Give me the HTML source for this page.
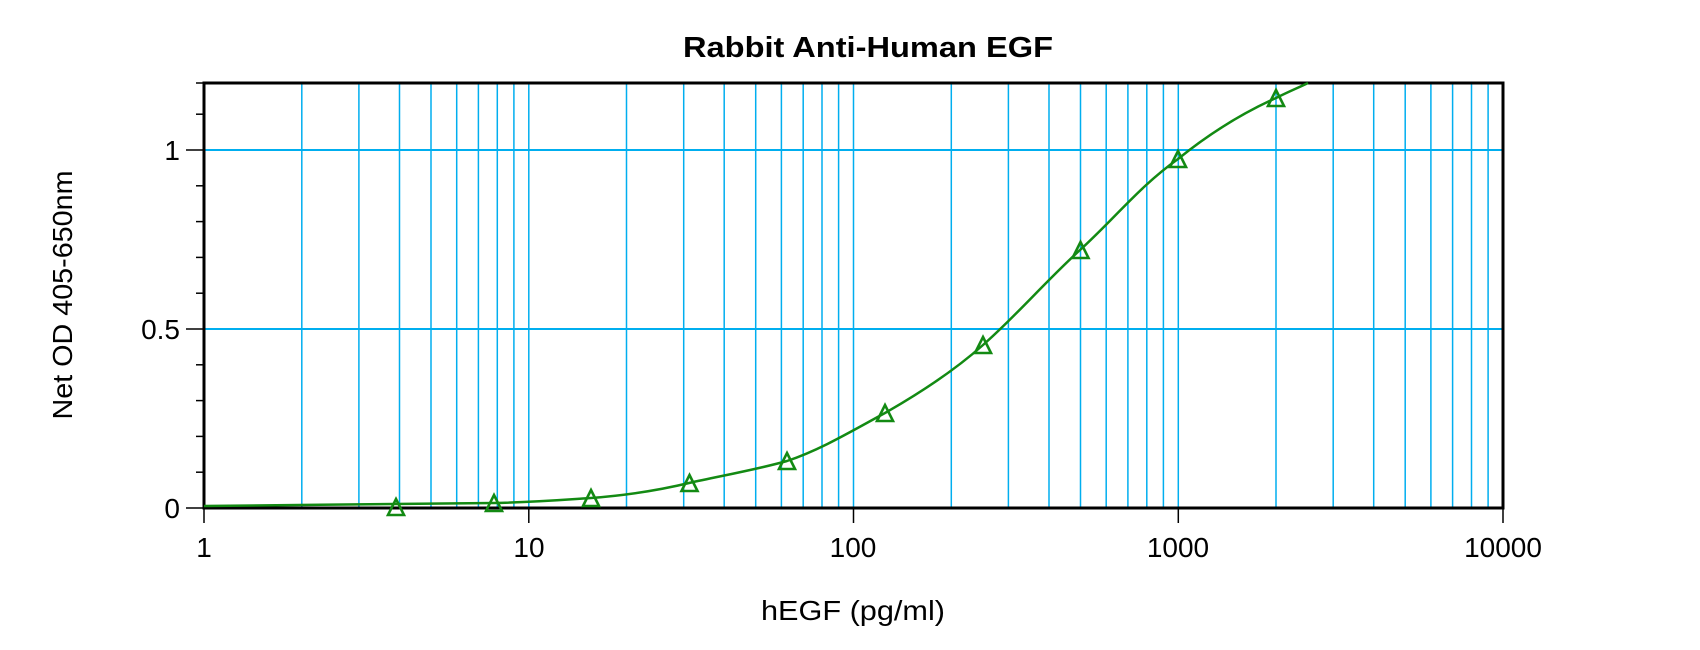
<!DOCTYPE html>
<html><head><style>html,body{margin:0;padding:0;background:#fff}</style></head><body>
<svg width="1700" height="645" xmlns="http://www.w3.org/2000/svg" font-family="Liberation Sans, Arial, sans-serif">
<rect width="1700" height="645" fill="#fff"/>
<g stroke="#00aeef">
<g stroke-width="1.5">
<line x1="301.8" y1="83" x2="301.8" y2="508"/><line x1="358.9" y1="83" x2="358.9" y2="508"/><line x1="399.5" y1="83" x2="399.5" y2="508"/><line x1="431" y1="83" x2="431" y2="508"/><line x1="456.7" y1="83" x2="456.7" y2="508"/><line x1="478.4" y1="83" x2="478.4" y2="508"/><line x1="497.3" y1="83" x2="497.3" y2="508"/><line x1="513.9" y1="83" x2="513.9" y2="508"/><line x1="528.8" y1="83" x2="528.8" y2="508"/>
<line x1="626.5" y1="83" x2="626.5" y2="508"/><line x1="683.7" y1="83" x2="683.7" y2="508"/><line x1="724.2" y1="83" x2="724.2" y2="508"/><line x1="755.7" y1="83" x2="755.7" y2="508"/><line x1="781.4" y1="83" x2="781.4" y2="508"/><line x1="803.2" y1="83" x2="803.2" y2="508"/><line x1="822" y1="83" x2="822" y2="508"/><line x1="838.6" y1="83" x2="838.6" y2="508"/><line x1="853.5" y1="83" x2="853.5" y2="508"/>
<line x1="951.3" y1="83" x2="951.3" y2="508"/><line x1="1008.4" y1="83" x2="1008.4" y2="508"/><line x1="1049" y1="83" x2="1049" y2="508"/><line x1="1080.5" y1="83" x2="1080.5" y2="508"/><line x1="1106.2" y1="83" x2="1106.2" y2="508"/><line x1="1127.9" y1="83" x2="1127.9" y2="508"/><line x1="1146.8" y1="83" x2="1146.8" y2="508"/><line x1="1163.4" y1="83" x2="1163.4" y2="508"/><line x1="1178.3" y1="83" x2="1178.3" y2="508"/>
<line x1="1276" y1="83" x2="1276" y2="508"/><line x1="1333.2" y1="83" x2="1333.2" y2="508"/><line x1="1373.7" y1="83" x2="1373.7" y2="508"/><line x1="1405.2" y1="83" x2="1405.2" y2="508"/><line x1="1430.9" y1="83" x2="1430.9" y2="508"/><line x1="1452.6" y1="83" x2="1452.6" y2="508"/><line x1="1471.5" y1="83" x2="1471.5" y2="508"/><line x1="1488.1" y1="83" x2="1488.1" y2="508"/>
</g>
<line x1="204" y1="150" x2="1503" y2="150" stroke-width="2"/>
<line x1="204" y1="329" x2="1503" y2="329" stroke-width="2"/>
</g>
<rect x="204" y="83" width="1299" height="425" fill="none" stroke="#000" stroke-width="3"/>
<g stroke="#000" stroke-width="1.5">
<line x1="186" y1="150" x2="204" y2="150"/><line x1="186" y1="329" x2="204" y2="329"/><line x1="186" y1="508" x2="204" y2="508"/>
<line x1="196" y1="114.2" x2="204" y2="114.2"/><line x1="196" y1="185.8" x2="204" y2="185.8"/><line x1="196" y1="221.6" x2="204" y2="221.6"/><line x1="196" y1="257.4" x2="204" y2="257.4"/><line x1="196" y1="293.2" x2="204" y2="293.2"/><line x1="196" y1="364.8" x2="204" y2="364.8"/><line x1="196" y1="400.6" x2="204" y2="400.6"/><line x1="196" y1="436.4" x2="204" y2="436.4"/><line x1="196" y1="472.2" x2="204" y2="472.2"/><line x1="196" y1="83" x2="204" y2="83"/>
<line x1="204" y1="508" x2="204" y2="523"/><line x1="528.8" y1="508" x2="528.8" y2="523"/><line x1="853.5" y1="508" x2="853.5" y2="523"/><line x1="1178.3" y1="508" x2="1178.3" y2="523"/><line x1="1503" y1="508" x2="1503" y2="523"/>
</g>
<text x="868" y="57" font-size="29" font-weight="bold" text-anchor="middle" textLength="370" lengthAdjust="spacingAndGlyphs">Rabbit Anti-Human EGF</text>
<g font-size="28" text-anchor="end">
<text x="180" y="160">1</text><text x="180" y="339">0.5</text><text x="180" y="518">0</text>
</g>
<g font-size="28" text-anchor="middle">
<text x="204" y="557">1</text><text x="529" y="557">10</text><text x="853" y="557">100</text><text x="1178" y="557">1000</text><text x="1503" y="557">10000</text>
</g>
<text x="853" y="620" font-size="28" text-anchor="middle" textLength="184" lengthAdjust="spacingAndGlyphs">hEGF (pg/ml)</text>
<text transform="translate(72,295) rotate(-90)" font-size="28" text-anchor="middle" textLength="249" lengthAdjust="spacingAndGlyphs">Net OD 405-650nm</text>
<path d="M204,506 C300,505 400,504 494,503 C540,502 560,500 591,498 C630,495 660,490 689,483 C720,476 755,470 787,461 C820,450 850,432 885,413 C920,393 955,370 983,345 C1015,317 1045,282 1080,250 C1115,218 1140,186 1178,159 C1210,133 1245,112 1276,98 C1290,91 1300,87 1308,83" fill="none" stroke="#138a13" stroke-width="2.5"/>
<g fill="none" stroke="#138a13" stroke-width="2.6">
<path d="M396,499 l8,16 h-16 z"/><path d="M494,495 l8,16 h-16 z"/><path d="M591,490 l8,16 h-16 z"/><path d="M689.5,475 l8,16 h-16 z"/><path d="M787,453 l8,16 h-16 z"/><path d="M885,405 l8,16 h-16 z"/><path d="M983,337 l8,16 h-16 z"/><path d="M1080.5,242 l8,16 h-16 z"/><path d="M1178,151 l8,16 h-16 z"/><path d="M1276,90 l8,16 h-16 z"/>
</g>
</svg>
</body></html>
